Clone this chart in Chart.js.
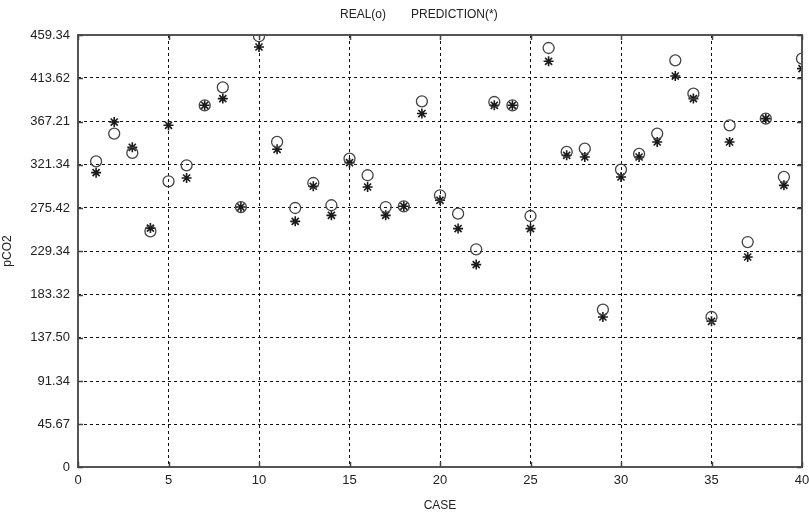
<!DOCTYPE html>
<html>
<head>
<meta charset="utf-8">
<script src="https://cdn.jsdelivr.net/npm/chart.js@4/dist/chart.umd.min.js"></script>
<style>
  html, body { margin: 0; padding: 0; background: #fff; }
  #wrap { width: 809px; height: 517px; position: relative; }
</style>
</head>
<body>
<div id="wrap"><canvas id="c" width="809" height="517"></canvas></div>
<script>
// Case numbers 1..40
const cases = [1,2,3,4,5,6,7,8,9,10,11,12,13,14,15,16,17,18,19,20,
               21,22,23,24,25,26,27,28,29,30,31,32,33,34,35,36,37,38,39,40];

// Measured pCO2 (o)
const realValues = [325, 354.5, 334, 250.6, 303.8, 320.8, 384.6, 403.7, 276.4, 458,
                    345.6, 275.4, 302, 278.3, 327.9, 310.2, 276.4, 277.2, 388.8, 288.9,
                    269.4, 231.5, 388.1, 384.6, 266.9, 445.5, 335, 338.5, 167.3, 316.2,
                    333, 354.5, 432.4, 397, 159.5, 363.3, 239.2, 370.4, 308.4, 434.2];

// Predicted pCO2 (*)
const predValues = [313, 366.8, 339.9, 254, 363.3, 307.3, 384.6, 391.7, 276.4, 446.6,
                    337.8, 261.2, 298.5, 267.6, 323.6, 297.7, 267.6, 277.2, 375.8, 283.6,
                    253.5, 215.2, 384.6, 384.6, 253.5, 431.4, 331.4, 329.6, 159.5, 308.4,
                    329.6, 345.6, 415.7, 391.7, 154.9, 345.6, 223.3, 370.4, 299.5, 423.6];

// Y-axis tick values and their printed labels
const yTickValues = [0, 45.67, 91.34, 137.50, 183.32, 229.34, 275.42, 321.34, 367.21, 413.62, 459.34];
const yTickLabels = ['0', '45.67', '91.34', '137.50', '183.32', '229.34', '275.42', '321.34', '367.21', '413.62', '459.34'];

const xTickValues = [0, 5, 10, 15, 20, 25, 30, 35, 40];

const FONT = 'Liberation Sans, Arial, sans-serif';
const INK = '#222';
const GRID_DASH = [3, 3];

// Box around the axes, inward tick marks on all four sides, and the header text
const framePlugin = {
  id: 'frame',
  afterDraw(chart) {
    const { ctx, chartArea: a, scales } = chart;
    ctx.save();
    ctx.strokeStyle = '#555';
    ctx.lineWidth = 2;
    ctx.strokeRect(a.left, a.top, a.right - a.left, a.bottom - a.top);
    ctx.lineWidth = 1.5;
    ctx.strokeStyle = '#444';
    const len = 5;
    yTickValues.forEach(v => {
      const y = Math.round(scales.y.getPixelForValue(v)) + 0.5;
      ctx.beginPath();
      ctx.moveTo(a.left, y); ctx.lineTo(a.left + len, y);
      ctx.moveTo(a.right, y); ctx.lineTo(a.right - len, y);
      ctx.stroke();
    });
    xTickValues.forEach(v => {
      const x = Math.round(scales.x.getPixelForValue(v)) + 0.5;
      ctx.beginPath();
      ctx.moveTo(x, a.bottom); ctx.lineTo(x, a.bottom - len);
      ctx.moveTo(x, a.top); ctx.lineTo(x, a.top + len);
      ctx.stroke();
    });
    ctx.fillStyle = INK;
    ctx.font = '12px ' + FONT;
    ctx.textBaseline = 'middle';
    ctx.textAlign = 'left';
    ctx.fillText('REAL(o)', 340, 15);
    ctx.fillText('PREDICTION(*)', 411, 15);
    ctx.restore();
  }
};

new Chart(document.getElementById('c'), {
  type: 'scatter',
  data: {
    datasets: [
      {
        label: 'REAL(o)',
        data: cases.map((c, i) => ({ x: c, y: realValues[i] })),
        pointStyle: 'circle',
        pointRadius: 5.5,
        pointBorderWidth: 1.3,
        borderColor: '#444',
        backgroundColor: 'rgba(0,0,0,0)'
      },
      {
        label: 'PREDICTION(*)',
        data: cases.map((c, i) => ({ x: c, y: predValues[i] })),
        pointStyle: 'star',
        pointRadius: 5,
        pointBorderWidth: 1.6,
        borderColor: '#1a1a1a',
        backgroundColor: '#1a1a1a'
      }
    ]
  },
  options: {
    responsive: false,
    animation: false,
    events: [],
    layout: { padding: { top: 35, right: 7, left: 0, bottom: 0 } },
    plugins: {
      legend: { display: false },
      title: { display: false },
      tooltip: { enabled: false }
    },
    scales: {
      x: {
        type: 'linear',
        min: 0,
        max: 40,
        afterBuildTicks(scale) { scale.ticks = xTickValues.map(v => ({ value: v })); },
        afterFit(scale) {
          scale.height = 50;
          scale.paddingLeft = 0;
          scale.paddingRight = 0;
        },
        ticks: {
          color: INK,
          font: { family: FONT, size: 13 },
          padding: 6,
          maxRotation: 0,
          callback: v => String(v)
        },
        grid: {
          color: '#111',
          lineWidth: 1,
          drawTicks: false
        },
        border: { display: false, dash: GRID_DASH },
        title: {
          display: true,
          text: 'CASE',
          color: INK,
          font: { family: FONT, size: 12 },
          padding: { top: 4, bottom: 4 }
        }
      },
      y: {
        type: 'linear',
        min: 0,
        max: 459.34,
        afterBuildTicks(scale) { scale.ticks = yTickValues.map(v => ({ value: v })); },
        afterFit(scale) {
          scale.width = 78;
          scale.paddingTop = 0;
          scale.paddingBottom = 0;
        },
        ticks: {
          color: INK,
          font: { family: FONT, size: 13 },
          padding: 8,
          callback: (v) => {
            const i = yTickValues.indexOf(v);
            return i >= 0 ? yTickLabels[i] : '';
          }
        },
        grid: {
          color: '#111',
          lineWidth: 1,
          drawTicks: false
        },
        border: { display: false, dash: GRID_DASH },
        title: {
          display: true,
          text: 'pCO2',
          color: INK,
          font: { family: FONT, size: 12 },
          padding: { top: 0, bottom: 0 }
        }
      }
    }
  },
  plugins: [framePlugin]
});
</script>
</body>
</html>
